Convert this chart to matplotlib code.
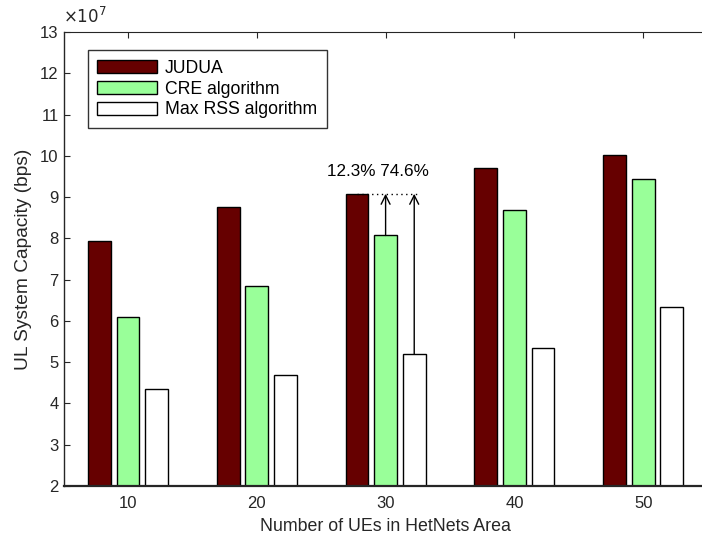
import numpy as np
import matplotlib
matplotlib.use("Agg")
import matplotlib.pyplot as plt

plt.rcParams['font.family'] = ['Liberation Sans', 'DejaVu Sans']

# UL capacity per scheme (in units of 1e7 bps)
num_ues = [10, 20, 30, 40, 50]
judua = [7.93, 8.76, 9.08, 9.71, 10.01]
cre = [6.10, 6.85, 8.07, 8.69, 9.44]
max_rss = [4.34, 4.69, 5.20, 5.34, 6.34]
series_names = ['JUDUA', 'CRE algorithm', 'Max RSS algorithm']
gain_text = '12.3% 74.6%'

colors = ['#660000', '#99ff99', '#ffffff']
txt_color = '#262626'

fig = plt.figure(figsize=(7.02, 5.41), dpi=100)
ax = fig.add_axes([63.6 / 702, 55 / 541, 644 / 702, 454 / 541])

x = np.array(num_ues, dtype=float)
step = 10 * (3 / 4.5) / 3  # MATLAB grouped bar spacing
width = 0.8 * step
for i, (vals, name) in enumerate(zip([judua, cre, max_rss], series_names)):
    ax.bar(x + (i - 1) * step, vals, width=width, color=colors[i],
           edgecolor='black', linewidth=1.0, label=name, zorder=2)

# gain annotation at 30 UEs
k = 2
x_j = x[k] - step
x_c = x[k]
x_m = x[k] + step
ax.plot([x_j, x_m + 0.4], [judua[k], judua[k]], linestyle=(0, (1, 2.5)),
        color='black', linewidth=1.0, zorder=3)
for xx, v in [(x_c, cre[k]), (x_m, max_rss[k])]:
    ax.annotate('', xy=(xx, judua[k]), xytext=(xx, v),
                arrowprops=dict(arrowstyle='->', color='black', lw=1.0,
                                shrinkA=0, shrinkB=0, mutation_scale=16),
                zorder=3)
ax.text(29.4, 9.62, gain_text, ha='center', va='center', fontsize=12.3)

ax.set_xlim(5, 55)
ax.set_ylim(2, 13)
ax.set_xticks(num_ues)
ax.set_yticks(range(2, 14))
ax.tick_params(direction='in', length=4, width=0.8, labelsize=12,
               top=True, right=False, colors=txt_color, labelcolor=txt_color)
ax.tick_params(axis='x', pad=7)
ax.spines['right'].set_visible(False)
for s in ax.spines.values():
    s.set_color(txt_color)
ax.spines['bottom'].set_linewidth(1.6)
ax.spines['left'].set_linewidth(1.0)

ax.set_xlabel('Number of UEs in HetNets Area', fontsize=12.8, color=txt_color, labelpad=5)
ax.set_ylabel('UL System Capacity (bps)', fontsize=13.8, color=txt_color, labelpad=6)
fig.text(63 / 702, 1 - 16 / 541, r'$\times10^{7}$', fontsize=12, color=txt_color,
         ha='left', va='center')

leg = ax.legend(loc='upper left', bbox_to_anchor=(24 / 644, 1 - 18 / 454),
                fontsize=12.7, frameon=True, fancybox=False, edgecolor='black',
                handlelength=3.4, handleheight=0.8, handletextpad=0.45,
                labelspacing=0.22, borderpad=0.55, borderaxespad=0)
leg.get_frame().set_linewidth(1.0)

fig.savefig('out.png', dpi=100)
